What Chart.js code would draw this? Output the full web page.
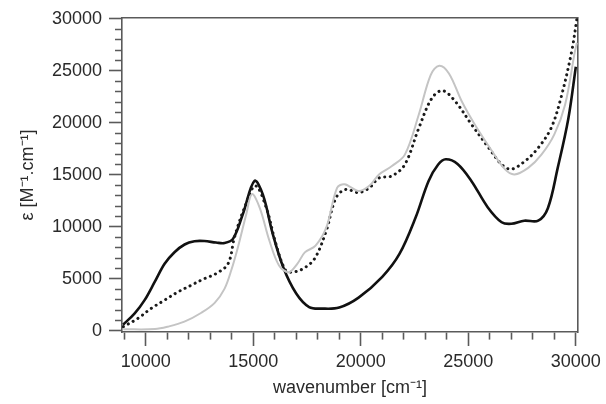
<!DOCTYPE html>
<html>
<head>
<meta charset="utf-8">
<script src="https://cdn.jsdelivr.net/npm/chart.js@4.4.0/dist/chart.umd.min.js"></script>
<style>
html,body{margin:0;padding:0;background:#fff;}
#wrap{width:606px;height:404px;}
</style>
</head>
<body>
<div id="wrap"><canvas id="c" width="606" height="404"></canvas></div>
<script>
// wavenumber (cm^-1) / epsilon (M^-1 cm^-1)
const blackX = [8950,9490,9950,10420,10880,11340,11810,12270,12730,13270,13670,14060,14520,15060,15450,15900,16400,17000,17600,18200,19000,19900,21000,21800,22550,23150,23600,23950,24500,25150,25900,26550,27000,27600,28250,28700,29150,29650,30000];
const blackY = [600,1690,2960,4710,6460,7570,8310,8620,8640,8500,8450,8850,11240,14420,13100,9400,6100,3600,2300,2150,2250,3200,5200,7400,10900,14400,16000,16500,16050,14400,11900,10450,10300,10600,10600,11800,15600,20400,25400];

const dotX = [8960,9640,10260,10880,11500,12110,12730,13270,13830,14130,14600,15100,15600,16050,16500,16850,17450,17900,18400,18850,19300,19900,20400,20850,21450,22050,22700,23300,23800,24400,25150,25950,26550,27000,27650,28250,28850,29300,29800,30050];
const dotY = [410,1210,2170,2960,3750,4390,5030,5510,6460,9010,11870,13950,11900,8400,5850,5650,6150,7100,9650,12800,13600,13300,13750,14700,14900,16000,19500,22350,23100,22050,19850,17600,16000,15550,16350,17600,19500,22350,26800,30000];

const grayX = [8960,10430,11030,11800,12590,13210,13670,13980,14290,14680,14940,15300,15750,16200,16650,17050,17400,17900,18400,18900,19250,19900,20400,20850,21450,22050,22700,23250,23650,24100,24700,25300,26100,26700,27150,27800,28400,29000,29500,29950,30050];
const grayY = [160,180,410,890,1750,2700,4070,5830,8050,11240,13150,11850,8700,6300,5650,6450,7550,8200,9950,13750,14100,13450,13950,15050,15850,16950,20800,24600,25500,24750,22050,19850,17300,15550,15050,15700,16950,18900,21750,26800,27700];

const xTickValues = [9000,10000,11000,12000,13000,14000,15000,16000,17000,18000,19000,20000,21000,22000,23000,24000,25000,26000,27000,28000,29000,30000];
const yTickValues = [0,1000,2000,3000,4000,5000,6000,7000,8000,9000,10000,11000,12000,13000,14000,15000,16000,17000,18000,19000,20000,21000,22000,23000,24000,25000,26000,27000,28000,29000,30000];
const xLabelStep = 5000;
const yLabelStep = 5000;

function pts(xs, ys){ return xs.map((x,i)=>({x:x, y:ys[i]})); }

const axisColor = '#5a5a5a';
const textColor = '#2a2a2a';
const fontFam = '"Liberation Sans", Arial, Helvetica, sans-serif';

new Chart(document.getElementById('c'), {
  type: 'line',
  data: {
    datasets: [
      { data: pts(grayX, grayY), borderColor: '#c4c4c4', borderWidth: 2, pointRadius: 0, fill: false, tension: 0.35 },
      { data: pts(dotX, dotY), borderColor: '#1a1a1a', borderWidth: 3, borderDash: [0.1, 5.5], borderCapStyle: 'round', pointRadius: 0, fill: false, tension: 0.35 },
      { data: pts(blackX, blackY), borderColor: '#111', borderWidth: 2.6, pointRadius: 0, fill: false, tension: 0.35 }
    ]
  },
  options: {
    responsive: false,
    animation: false,
    devicePixelRatio: 1,
    layout: { padding: 0 },
    plugins: { legend: { display: false }, tooltip: { enabled: false } },
    scales: {
      x: {
        type: 'linear', position: 'bottom', min: 8900, max: 30100,
        afterBuildTicks: s => { s.ticks = xTickValues.map(v => ({value: v})); },
        afterFit: s => { s.height = 72; },
        border: { display: true, color: axisColor, width: 1.6 },
        grid: {
          drawOnChartArea: false, drawTicks: true, tickLength: 14,
          tickColor: axisColor, tickWidth: 1.6,
          tickBorderDash: ctx => (ctx.tick && ctx.tick.value % xLabelStep === 0) ? [] : [7, 100]
        },
        ticks: {
          autoSkip: false, maxRotation: 0, padding: 5, color: textColor,
          font: { family: fontFam, size: 18 },
          callback: v => (v % xLabelStep === 0) ? String(v) : ''
        },
        title: { display: true, text: 'wavenumber [cm⁻¹]', color: textColor, font: { family: fontFam, size: 18 }, padding: { top: 0, bottom: 5 } }
      },
      x2: {
        type: 'linear', position: 'top', min: 8900, max: 30100,
        afterFit: s => { s.height = 17; },
        border: { display: true, color: axisColor, width: 1.6 },
        grid: { display: false, drawTicks: false },
        ticks: { display: false }
      },
      y: {
        type: 'linear', position: 'left', min: -100, max: 30100,
        afterBuildTicks: s => { s.ticks = yTickValues.map(v => ({value: v})); },
        afterFit: s => { s.width = 122; },
        border: { display: true, color: axisColor, width: 1.6 },
        grid: {
          drawOnChartArea: false, drawTicks: true, tickLength: 13,
          tickColor: axisColor, tickWidth: 1.6,
          tickBorderDash: ctx => (ctx.tick && ctx.tick.value % yLabelStep === 0) ? [] : [0, 6, 7, 100]
        },
        ticks: {
          autoSkip: false, padding: 7, color: textColor,
          font: { family: fontFam, size: 18 },
          callback: v => (v % yLabelStep === 0) ? String(v) : ''
        },
        title: { display: true, text: 'ε [M⁻¹.cm⁻¹]', color: textColor, font: { family: fontFam, size: 18 }, padding: { top: 17, bottom: 0 } }
      },
      y2: {
        type: 'linear', position: 'right', min: -100, max: 30100,
        afterFit: s => { s.width = 26; },
        border: { display: true, color: axisColor, width: 1.6 },
        grid: { display: false, drawTicks: false },
        ticks: { display: false }
      }
    }
  }
});
</script>
</body>
</html>
